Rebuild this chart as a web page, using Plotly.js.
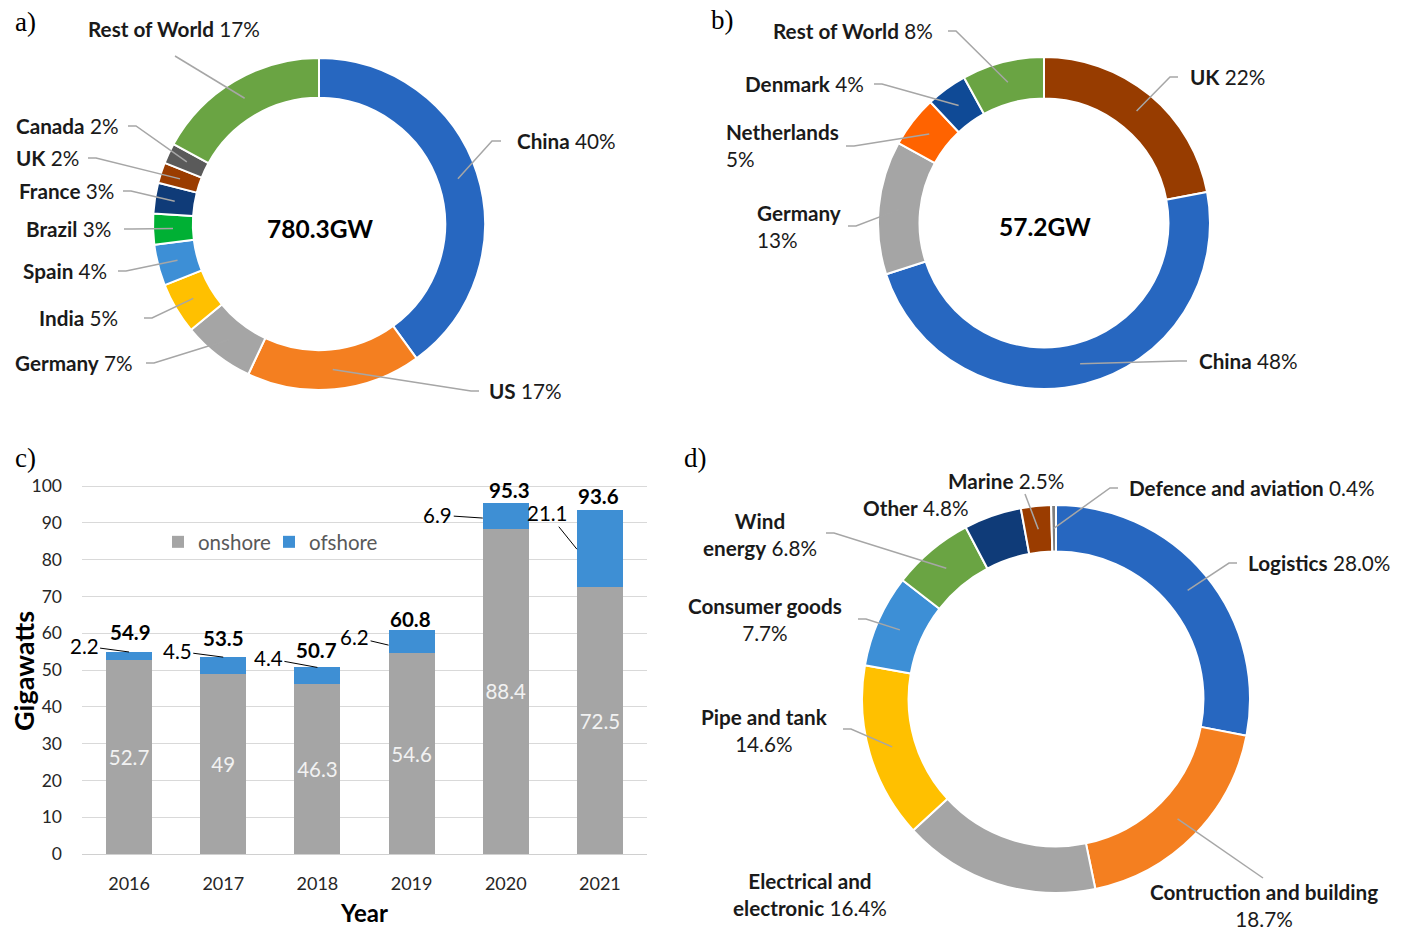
<!DOCTYPE html>
<html><head><meta charset="utf-8">
<script src="https://cdn.plot.ly/plotly-3.0.1.min.js"></script>
<style>html,body{margin:0;padding:0;background:#fff}</style>
</head><body><div id="chart" style="width:1401px;height:932px"></div>
<script>
// ---------------- DATA ----------------
// a) onshore capacity share
const aNames = ['China','US','Germany','India','Spain','Brazil','France','UK','Canada','Rest of World'];
const aValues = [40,17,7,5,4,3,3,2,2,17];
const aTotal = '780.3GW';
// b) offshore capacity share
const bNames = ['UK','China','Germany','Netherlands','Denmark','Rest of World'];
const bValues = [22,48,13,5,4,8];
const bTotal = '57.2GW';
// c) yearly installations
const years = ['2016','2017','2018','2019','2020','2021'];
const onshore = [52.7,49,46.3,54.6,88.4,72.5];
const offshore = [2.2,4.5,4.4,6.2,6.9,21.1];
const totals = [54.9,53.5,50.7,60.8,95.3,93.6];
const yTickVals = [0,10,20,30,40,50,60,70,80,90,100];
// d) composites market by sector
const dNames = ['Logistics','Contruction and building','Electrical and electronic','Pipe and tank','Consumer goods','Wind energy','Other','Marine','Defence and aviation'];
const dValues = [28.0,18.7,16.4,14.6,7.7,6.8,4.8,2.5,0.4];

// ---------------- STYLE / LAYOUT ----------------
const W = 1401, H = 932;
const FONT = 'Lato, "Liberation Sans", Arial, sans-serif';
const LABEL_SIZE = 20.7;
const aColors = ['#2767c0','#f47f20','#a5a5a5','#ffc000','#3d8fd6','#00b034','#0f3b78','#9a3c00','#5a5a5a','#6aa443'];
const bColors = ['#973c00','#2767c0','#a5a5a5','#ff6300','#0f4a96','#6aa443'];
const dColors = ['#2767c0','#f47f20','#a5a5a5','#ffc000','#3d8fd6','#6aa443','#0f3b78','#9a3c00','#7f7f7f'];

// pie geometry in pixels: centre x, centre y, outer radius, hole
const aGeo = {cx:319, cy:224, r:166, hole:0.76};
const bGeo = {cx:1044, cy:223, r:166, hole:0.75};
const dGeo = {cx:1056, cy:699, r:194, hole:0.76};

// label placement: [textX, textY, xanchor, lineStartX, lineStartY, stub, break]
// break: 0 = one line, 1 = percentage on 2nd line, 2 = last word + percentage on 2nd line
const aLab = [
  [515,141,'left',501,141,-9,0],
  [487,391,'left',479,391,-8,0],
  [135,363,'right',146,363,8,0],
  [120,318,'right',144,318,8,0],
  [109,271,'right',118,271,8,0],
  [113,229,'right',124,229,8,0],
  [116,191,'right',123,191,8,0],
  [81,158,'right',88,158,8,0],
  [120,126,'right',128,126,8,0],
  [174,29,'center',175,56,0,0]
];
const bLab = [
  [1188,77,'left',1178,77,-8,0],
  [1197,361,'left',1187,361,-8,0],
  [755,226,'left',848,226,8,1],
  [724,146,'left',846,146,8,1],
  [866,84,'right',874,84,8,0],
  [935,31,'right',948,31,8,0]
];
const dLab = [
  [1246,563,'left',1237,563,-8,0],
  [1264,905,'center',1263,878,0,1],
  [810,894,'center',null,null,0,2],
  [764,730,'center',843,729,8,1],
  [765,619,'center',858,619,8,1],
  [760,534,'center',826,533,8,2],
  [916,508,'center',null,null,0,0],
  [1006,481,'center',1025,494,0,0],
  [1127,488,'left',1118,488,-8,0]
];

const px = x => x / W;
const py = y => 1 - y / H;

const shapes = [];
const annotations = [];
const traces = [];

function labelText(name, pct, mode) {
  if (mode === 1) return '<b>' + name + '</b><br>' + pct;
  if (mode === 2) {
    const i = name.lastIndexOf(' ');
    return '<b>' + name.slice(0, i) + '</b><br><b>' + name.slice(i + 1) + '</b> ' + pct;
  }
  return '<b>' + name + '</b> ' + pct;
}

function addDonut(names, values, colors, geo, lab, total, decimals) {
  traces.push({
    type: 'pie', labels: names, values: values, sort: false, direction: 'clockwise', rotation: 0,
    hole: geo.hole, textinfo: 'none', showlegend: false, hoverinfo: 'label+percent',
    marker: {colors: colors, line: {color: '#ffffff', width: 2}},
    domain: {x: [px(geo.cx - geo.r), px(geo.cx + geo.r)], y: [py(geo.cy + geo.r), py(geo.cy - geo.r)]}
  });
  const sum = values.reduce((s, v) => s + v, 0);
  const rm = geo.r * (1 + geo.hole) / 2;
  let cum = 0;
  values.forEach((v, i) => {
    const f = (cum + v / 2) / sum;
    cum += v;
    const th = 2 * Math.PI * f;
    const sx = geo.cx + rm * Math.sin(th), sy = geo.cy - rm * Math.cos(th);
    const L = lab[i];
    const pct = v.toFixed(decimals) + '%';
    annotations.push({
      xref: 'paper', yref: 'paper', x: px(L[0]), y: py(L[1]), xanchor: L[2], yanchor: 'middle',
      align: L[2] === 'right' ? 'right' : (L[2] === 'left' ? 'left' : 'center'),
      text: labelText(names[i], pct, L[6]), showarrow: false,
      font: {family: FONT, size: LABEL_SIZE, color: '#1a1a1a'}
    });
    if (L[3] !== null) {
      const path = 'M' + px(L[3]) + ',' + py(L[4]) + ' L' + px(L[3] + L[5]) + ',' + py(L[4]) + ' L' + px(sx) + ',' + py(sy);
      shapes.push({type: 'path', xref: 'paper', yref: 'paper', path: path, line: {color: '#a6a6a6', width: 1.5}});
    }
  });
  if (total) {
    annotations.push({xref: 'paper', yref: 'paper', x: px(geo.cx + 1), y: py(geo.cy + 4), xanchor: 'center', yanchor: 'middle',
      text: '<b>' + total + '</b>', showarrow: false, font: {family: FONT, size: 24.5, color: '#000'}});
  }
}

addDonut(aNames, aValues, aColors, aGeo, aLab, aTotal, 0);
addDonut(bNames, bValues, bColors, bGeo, bLab, bTotal, 0);
addDonut(dNames, dValues, dColors, dGeo, dLab, null, 1);

// ---------------- bar chart c) ----------------
traces.push({
  type: 'bar', name: 'onshore', x: years, y: onshore, width: 0.49,
  marker: {color: '#a5a5a5'}, text: onshore.map(String), textposition: 'inside', insidetextanchor: 'middle',
  textangle: 0, constraintext: 'none', textfont: {family: FONT, size: 20.5, color: '#f2f2f2'},
  xaxis: 'x', yaxis: 'y', hoverinfo: 'x+y+name'
});
traces.push({
  type: 'bar', name: 'ofshore', x: years, y: offshore, width: 0.49,
  marker: {color: '#3e8fd4'}, textposition: 'none',
  xaxis: 'x', yaxis: 'y', hoverinfo: 'x+y+name'
});

// total labels: vertical offset of label centre above bar top (px), horizontal offset (px)
const totalShift = [20,19,17,11,13,14];
const totalXShift = [1,0,-1,-1,4,-1];
totals.forEach((t, i) => {
  annotations.push({xref: 'x', yref: 'y', x: i, y: t, yanchor: 'middle', xanchor: 'center',
    yshift: totalShift[i], xshift: totalXShift[i], showarrow: false,
    text: '<b>' + t + '</b>', font: {family: FONT, size: 20.5, color: '#000'}});
});
// offshore callouts: [tip xshift px, fraction of offshore segment, ax, ay]
const offCall = [[0,1,-45,-6],[0,1,-46,-6],[0,1,-49,-9],[-23,0.35,-34,-8],[-23,0.42,-45,-3],[-23,0.49,-29,-36]];
offshore.forEach((o, i) => {
  const c = offCall[i];
  annotations.push({xref: 'x', yref: 'y', x: i, y: onshore[i] + o * c[1], xshift: c[0],
    ax: c[2], ay: c[3], showarrow: true, arrowhead: 0, arrowwidth: 1, arrowcolor: '#000', standoff: 0,
    text: String(o), font: {family: FONT, size: 20.5, color: '#000'}});
});

// y-axis title (placed precisely)
annotations.push({xref: 'paper', yref: 'paper', x: px(23), y: py(671), xanchor: 'center', yanchor: 'middle',
  textangle: -90, showarrow: false, text: '<b>Gigawatts</b>', font: {family: FONT, size: 27, color: '#000'}});

// panel letters
[['a)',25,22],['b)',722,20],['c)',25,458],['d)',695,458]].forEach(p => {
  annotations.push({xref: 'paper', yref: 'paper', x: px(p[1]), y: py(p[2]), xanchor: 'center', yanchor: 'middle',
    showarrow: false, text: p[0], font: {family: '"Liberation Serif", "DejaVu Serif", serif', size: 27, color: '#000'}});
});

const layout = {
  width: W, height: H, margin: {l: 0, r: 0, t: 0, b: 0},
  paper_bgcolor: '#fff', plot_bgcolor: '#fff',
  font: {family: FONT, color: '#1a1a1a'},
  barmode: 'stack', showlegend: true,
  legend: {orientation: 'h', x: px(158), y: py(542), xanchor: 'left', yanchor: 'middle',
    font: {family: FONT, size: 20.5, color: '#595959'}, bgcolor: 'rgba(0,0,0,0)',
    entrywidth: 66, entrywidthmode: 'pixels', traceorder: 'normal'},
  xaxis: {domain: [px(82), px(647)], type: 'category', range: [-0.5, 5.5], showgrid: false,
    showline: true, linecolor: '#d0d0d0', linewidth: 1, ticks: '', ticklabelstandoff: 13,
    tickfont: {family: FONT, size: 18, color: '#262626'}, fixedrange: true,
    title: {text: '<b>Year</b>', font: {family: FONT, size: 24, color: '#000'}, standoff: 12}, anchor: 'y'},
  yaxis: {domain: [py(854), py(484.2)], range: [0, 100.5], tickvals: yTickVals, showgrid: true,
    gridcolor: '#d9d9d9', gridwidth: 1, zeroline: false, showline: false, ticks: '', ticklabelstandoff: 19,
    tickfont: {family: FONT, size: 17.5, color: '#262626'}, fixedrange: true, anchor: 'x'},
  shapes: shapes,
  annotations: annotations
};

Plotly.newPlot('chart', traces, layout, {displayModeBar: false, staticPlot: false});
</script></body></html>
